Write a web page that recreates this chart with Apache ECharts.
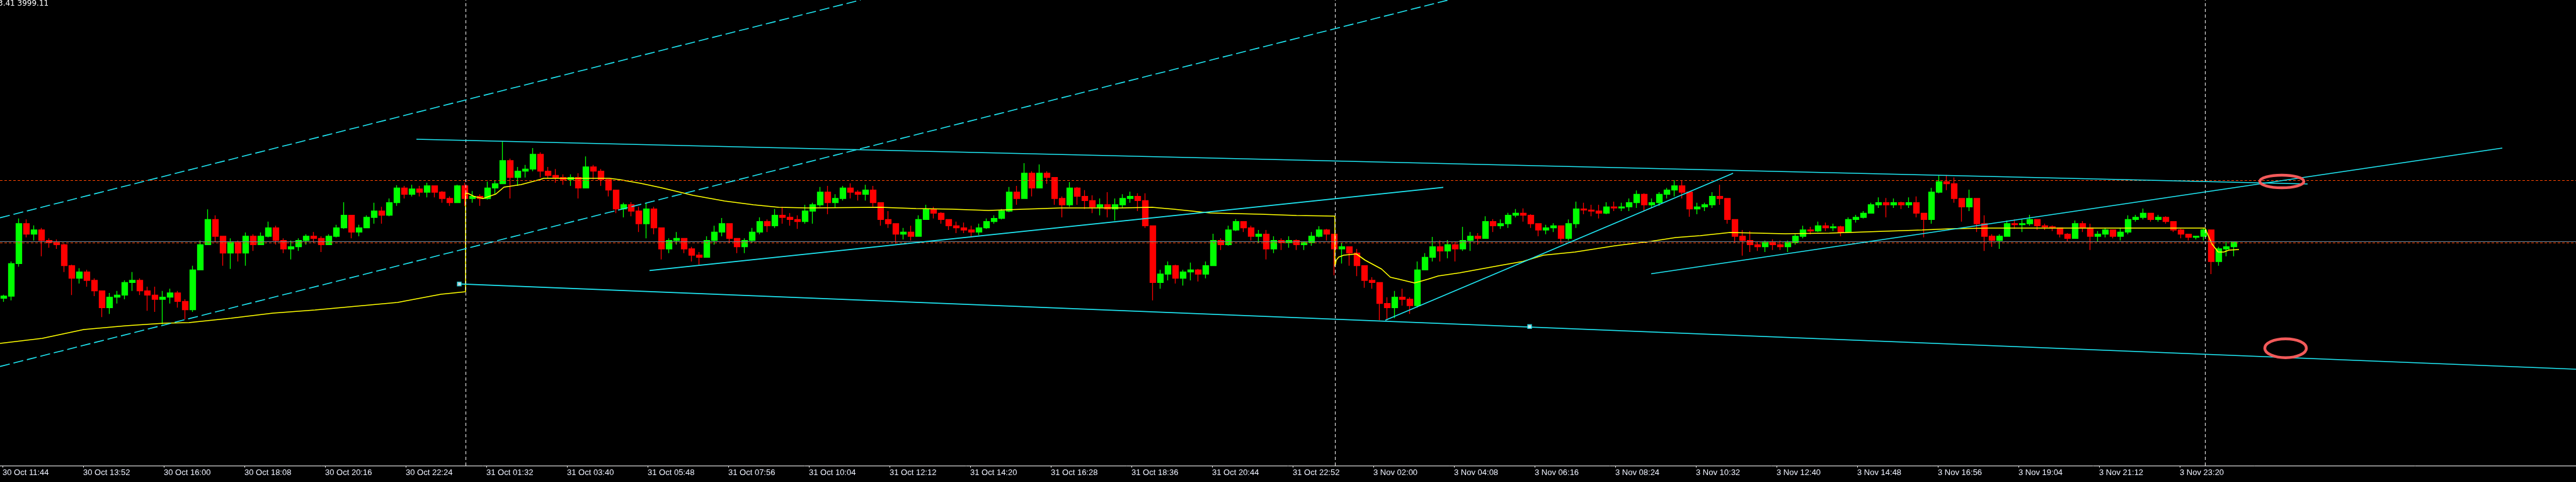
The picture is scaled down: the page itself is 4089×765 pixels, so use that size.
<!DOCTYPE html>
<html><head><meta charset="utf-8">
<script src="https://cdn.jsdelivr.net/npm/echarts@6/dist/echarts.min.js"></script>
<style>html,body{margin:0;padding:0;background:#000;overflow:hidden}#c{width:4089px;height:765px}</style>
</head><body><div id="c"></div>
<script>
// ---- time labels of the bottom axis (one every 128 one-minute bars) ----
const timeLabels = ['30 Oct 11:44','30 Oct 13:52','30 Oct 16:00','30 Oct 18:08','30 Oct 20:16','30 Oct 22:24',
 '31 Oct 01:32','31 Oct 03:40','31 Oct 05:48','31 Oct 07:56','31 Oct 10:04','31 Oct 12:12','31 Oct 14:20',
 '31 Oct 16:28','31 Oct 18:36','31 Oct 20:44','31 Oct 22:52','3 Nov 02:00','3 Nov 04:08','3 Nov 06:16',
 '3 Nov 08:24','3 Nov 10:32','3 Nov 12:40','3 Nov 14:48','3 Nov 16:56','3 Nov 19:04','3 Nov 21:12','3 Nov 23:20'];
const firstLabelBar = 4, barsPerLabel = 128;
const barMinutes = 12; // each candle below groups 12 one-minute bars

// ---- candles [open, close, low, high] ----
const session30Oct = [
[3972.2,3973.2,3970.5,3973.9],[3973.2,3988.7,3971.2,3989.7],[3988.7,4007.7,3987.2,4010.2],[4007.7,4002.7,4001.2,4009.7],
[4002.7,4004.7,3999.7,4006.9],[4004.7,3999.7,3992.2,4005.7],[3999.7,3998.7,3996.2,4000.7],[3998.7,3997.7,3995.7,4000.2],
[3997.7,3987.7,3984.7,3998.2],[3987.7,3981.7,3973.7,3988.2],[3981.7,3984.7,3979.2,3986.5],[3984.7,3980.7,3977.7,3985.7],
[3980.7,3975.7,3973.2,3981.7],[3975.7,3967.7,3963.2,3975.7],[3967.7,3972.7,3964.7,3974.7],[3972.7,3973.7,3969.7,3975.7],
[3973.7,3979.7,3971.7,3980.7],[3979.7,3980.7,3975.7,3984.7],[3980.7,3975.7,3973.7,3981.7],[3975.7,3973.7,3966.2,3977.7],
[3973.7,3971.7,3965.7,3977.7],[3971.7,3972.7,3959.7,3975.7],[3972.7,3974.7,3969.7,3976.7],[3974.7,3970.7,3967.7,3975.7],
[3970.7,3966.7,3962.2,3971.7],[3966.7,3985.7,3965.7,3987.7],[3985.7,3997.7,3985.7,3999.7],[3997.7,4009.7,3997.7,4014.5],
[4009.7,4001.7,3998.7,4011.7],[4001.7,3993.7,3987.7,4001.7],[3993.7,3998.7,3986.2,4000.7],[3998.7,3993.7,3989.7,3999.7],
[3993.7,4001.7,3987.7,4003.5],[4001.7,3997.7,3994.7,4002.7],[3997.7,4001.7,3997.7,4003.5],[4001.7,4005.7,4001.2,4008.7],
[4005.7,3999.7,3997.7,4006.7],[3999.7,3995.7,3993.7,4000.7],[3995.7,3996.7,3990.7,3999.7],[3996.7,3999.7,3994.7,4000.7],
[3999.7,4001.7,3997.7,4002.7],[4001.7,4000.7,3998.7,4003.7],[4000.7,3997.7,3994.2,4001.7],[3997.7,4001.7,3997.7,4002.7],
[4001.7,4005.7,4001.2,4007.2],[4005.7,4011.7,4005.2,4017.9],[4011.7,4003.7,4000.7,4011.7],[4003.7,4005.7,4001.7,4007.2],
[4005.7,4010.7,4005.7,4011.7],[4010.7,4013.7,4007.7,4017.7],[4013.7,4011.7,4007.7,4015.7],[4011.7,4017.7,4011.2,4019.7],
[4017.7,4024.7,4016.2,4026.0],[4024.7,4021.7,4019.7,4025.7],[4021.7,4024.2,4020.7,4026.2],[4024.2,4022.7,4020.7,4025.7],
[4022.7,4025.7,4020.2,4027.2],[4025.7,4022.7,4020.2,4025.7],[4022.7,4019.7,4017.7,4023.2],[4019.7,4017.7,4016.2,4020.7],
[4017.7,4025.7,4017.7,4026.2],[4025.7,4019.7,4016.2,4027.2]];
const session31Oct = [
[4019.7,4020.7,4017.7,4023.2],[4020.7,4019.7,4016.2,4021.7],[4019.7,4024.7,4019.2,4027.7],[4024.7,4026.7,4021.7,4028.2],
[4026.7,4037.7,4026.7,4046.7],[4037.7,4029.7,4019.7,4038.7],[4029.7,4032.7,4025.7,4034.7],[4032.7,4033.7,4029.7,4035.7],
[4033.7,4040.7,4032.7,4043.7],[4040.7,4032.7,4029.7,4041.7],[4032.7,4030.7,4029.2,4034.7],[4030.7,4029.7,4027.2,4033.7],
[4029.7,4028.7,4026.2,4031.2],[4028.7,4029.7,4025.7,4031.2],[4029.7,4024.7,4019.7,4031.7],[4024.7,4034.7,4024.7,4039.7],
[4034.7,4032.7,4028.7,4035.7],[4032.7,4028.7,4025.7,4033.7],[4028.7,4023.7,4020.7,4028.7],[4023.7,4014.7,4012.7,4023.7],
[4014.7,4016.7,4010.7,4017.7],[4016.7,4013.7,4011.2,4017.9],[4013.7,4007.7,4003.7,4015.7],[4007.7,4014.7,4000.7,4017.7],
[4014.7,4005.7,4002.7,4015.7],[4005.7,3995.7,3990.7,4005.7],[3995.7,3999.7,3993.7,4000.7],[3999.7,4000.7,3997.7,4003.7],
[4000.7,3995.7,3993.7,4000.7],[3995.7,3992.7,3989.7,3996.7],[3992.7,3991.7,3988.2,3994.2],[3991.7,3999.7,3991.7,4001.7],
[3999.7,4003.7,3997.7,4006.7],[4003.7,4007.7,4001.7,4010.4],[4007.7,4000.7,3998.7,4007.7],[4000.7,3996.7,3993.7,4000.7],
[3996.7,3999.7,3993.7,4000.7],[3999.7,4003.7,3998.7,4005.7],[4003.7,4008.7,4002.7,4010.7],[4008.7,4006.7,4003.7,4009.7],
[4006.7,4011.7,4005.7,4014.7],[4011.7,4010.7,4007.7,4015.7],[4010.7,4009.7,4006.7,4012.7],[4009.7,4008.7,4005.2,4011.7],
[4008.7,4013.7,4007.7,4016.7],[4013.7,4016.7,4007.7,4017.7],[4016.7,4022.7,4015.7,4025.2],[4022.7,4017.7,4012.2,4025.7],
[4017.7,4019.7,4015.2,4021.7],[4019.7,4024.7,4018.7,4025.7],[4024.7,4022.7,4019.7,4026.9],[4022.7,4021.7,4018.7,4023.7],
[4021.7,4023.7,4018.7,4026.2],[4023.7,4017.7,4015.7,4025.7],[4017.7,4009.7,4006.7,4017.7],[4009.7,4007.7,4005.7,4013.7],
[4007.7,4002.7,3998.2,4007.7],[4002.7,4003.7,4000.2,4005.7],[4003.7,4001.7,3999.7,4006.7],[4001.7,4009.7,4001.7,4011.7],
[4009.7,4014.7,4009.7,4016.7],[4014.7,4012.7,4010.2,4015.7],[4012.7,4009.7,4007.7,4013.2],[4009.7,4006.7,4004.7,4009.7],
[4006.7,4005.7,4003.2,4008.7],[4005.7,4004.7,4003.2,4008.2],[4004.7,4003.7,4001.7,4006.7],[4003.7,4005.7,4002.2,4007.7],
[4005.7,4008.7,4005.2,4010.2],[4008.7,4010.2,4007.7,4011.7],[4010.2,4013.7,4009.7,4014.7],[4013.7,4022.7,4013.2,4025.2],
[4022.7,4019.7,4016.7,4025.7],[4019.7,4031.7,4019.7,4036.5],[4031.7,4024.7,4020.7,4032.7],[4024.7,4031.7,4024.7,4035.9],
[4031.7,4029.7,4026.7,4032.7],[4029.7,4019.7,4016.7,4029.7],[4019.7,4016.7,4010.7,4020.7],[4016.7,4024.7,4015.7,4027.5],
[4024.7,4020.7,4016.7,4025.2],[4020.7,4018.7,4014.7,4023.7],[4018.7,4015.7,4012.7,4021.2],[4015.7,4016.7,4011.7,4019.7],
[4016.7,4014.7,4010.7,4022.7],[4014.7,4016.7,4009.2,4019.7],[4016.7,4019.7,4015.2,4021.7],[4019.7,4020.7,4017.7,4022.9],
[4020.7,4018.7,4013.7,4022.2],[4018.7,4006.7,4005.7,4022.2],[4006.7,3979.7,3971.2,4006.7],[3979.7,3983.7,3976.7,3985.7],
[3983.7,3987.7,3980.7,3989.7],[3987.7,3981.7,3979.2,3988.2],[3981.7,3984.7,3978.2,3985.7],[3984.7,3985.7,3980.7,3989.2],
[3985.7,3983.7,3980.2,3986.2],[3983.7,3987.7,3981.7,3989.7],[3987.7,3999.7,3987.7,4002.9],[3999.7,3997.7,3995.2,4000.7],
[3997.7,4004.7,3997.2,4006.7],[4004.7,4008.7,4004.2,4009.9],[4008.7,4005.7,4003.7,4008.9],[4005.7,4001.7,3999.7,4006.7],
[4001.7,4002.7,3998.7,4004.7],[4002.7,3995.7,3990.7,4004.7],[3995.7,3999.7,3993.7,4001.7],[3999.7,3998.7,3995.2,4000.7],
[3998.7,3999.7,3996.2,4001.7],[3999.7,3997.7,3995.2,4000.2],[3997.7,3998.7,3995.2,3999.2],[3998.7,4001.7,3997.2,4003.7],
[4001.7,4004.7,4001.2,4006.5],[4004.7,4002.7,3999.7,4005.2],[4002.7,3995.7,3983.2,4002.7]];
const session3Nov = [
[3995.7,3996.7,3988.7,3998.7],[3996.7,3993.7,3987.7,3996.7],[3993.7,3987.7,3982.7,3995.7],[3987.7,3980.7,3977.2,3987.7],
[3980.7,3979.7,3976.7,3982.2],[3979.7,3969.7,3961.7,3979.7],[3969.7,3967.7,3961.7,3972.7],[3967.7,3972.7,3962.7,3975.7],
[3972.7,3971.7,3968.7,3976.7],[3971.7,3968.7,3964.7,3972.7],[3968.7,3985.7,3967.7,3989.7],[3985.7,3991.7,3985.7,3993.7],
[3991.7,3996.7,3989.7,4001.4],[3996.7,3994.7,3989.7,3999.7],[3994.7,3997.7,3991.2,3999.9],[3997.7,3995.7,3989.7,3999.2],
[3995.7,3999.7,3994.7,4006.2],[3999.7,4001.7,3994.7,4003.7],[4001.7,4000.7,3997.7,4003.2],[4000.7,4008.7,4000.7,4011.2],
[4008.7,4006.7,4003.7,4009.9],[4006.7,4007.7,4005.2,4009.7],[4007.7,4011.7,4005.7,4012.9],[4011.7,4012.7,4010.7,4014.7],
[4012.7,4011.7,4008.7,4015.0],[4011.7,4007.7,4005.7,4012.2],[4007.7,4004.7,4001.7,4007.7],[4004.7,4005.7,4002.7,4007.2],
[4005.7,4006.7,4003.7,4007.9],[4006.7,4000.7,3998.2,4006.7],[4000.7,4007.7,3999.7,4009.7],[4007.7,4014.7,4005.7,4018.2],
[4014.7,4014.2,4012.2,4017.7],[4014.2,4013.7,4011.2,4016.7],[4013.7,4012.7,4010.2,4016.7],[4012.7,4015.7,4012.2,4017.9],
[4015.7,4015.2,4013.7,4018.2],[4015.2,4015.7,4013.7,4017.7],[4015.7,4017.7,4013.7,4019.7],[4017.7,4021.7,4015.2,4023.5],
[4021.7,4016.7,4013.7,4022.2],[4016.7,4017.7,4015.2,4019.7],[4017.7,4021.7,4016.2,4022.7],[4021.7,4023.7,4019.7,4024.7],
[4023.7,4025.7,4020.7,4028.4],[4025.7,4022.7,4019.7,4028.4],[4022.7,4014.7,4011.0,4022.7],[4014.7,4015.7,4012.2,4017.7],
[4015.7,4016.7,4013.7,4017.7],[4016.7,4020.7,4015.2,4022.7],[4020.7,4019.7,4016.7,4026.2],[4019.7,4009.7,4007.7,4019.7],
[4009.7,4001.7,3998.7,4009.7],[4001.7,3999.7,3992.5,4004.7],[3999.7,3997.7,3994.2,4004.2],[3997.7,3996.7,3994.7,3999.2],
[3996.7,3998.7,3994.2,3999.7],[3998.7,3997.7,3995.2,4000.2],[3997.7,3996.7,3995.2,3999.7],[3996.7,3998.7,3994.2,3999.7],
[3998.7,4001.7,3997.7,4002.7],[4001.7,4004.7,4000.7,4006.7],[4004.7,4004.2,4002.7,4006.2],[4004.2,4006.7,4003.7,4008.7],
[4006.7,4005.7,4004.2,4008.2],[4005.7,4006.2,4004.2,4007.7],[4006.2,4003.7,4001.7,4006.7],[4003.7,4009.7,4003.7,4010.7],
[4009.7,4010.7,4008.2,4011.9],[4010.7,4012.7,4010.2,4013.7],[4012.7,4016.7,4012.7,4017.7],[4016.7,4017.7,4015.2,4020.2],
[4017.7,4016.7,4010.7,4019.9],[4016.7,4017.7,4015.2,4019.7],[4017.7,4016.7,4014.7,4018.2],[4016.7,4017.7,4015.2,4020.2],
[4017.7,4012.7,4010.7,4020.7],[4012.7,4009.7,4001.2,4012.7],[4009.7,4022.7,4007.7,4024.7],[4022.7,4027.7,4022.2,4030.7],
[4027.7,4026.7,4023.7,4030.9],[4026.7,4019.7,4017.7,4029.7],[4019.7,4015.7,4008.7,4019.7],[4015.7,4019.7,4013.7,4023.9],
[4019.7,4007.7,4003.7,4019.7],[4007.7,4001.7,3994.7,4011.7],[4001.7,3999.7,3996.7,4002.7],[3999.7,4001.7,3995.7,4002.7],
[4001.7,4007.7,4001.7,4009.2],[4007.7,4007.2,4005.2,4009.7],[4007.2,4007.7,4003.7,4009.7],[4007.7,4009.7,4006.7,4011.9],
[4009.7,4006.7,4004.7,4009.7],[4006.7,4006.2,4004.7,4007.7],[4006.2,4005.7,4004.2,4006.9],[4005.7,4002.7,4001.2,4005.7],
[4002.7,4000.7,3999.2,4003.2],[4000.7,4007.7,4000.7,4009.2],[4007.7,4005.7,4003.7,4008.9],[4005.7,4001.7,3995.2,4007.7],
[4001.7,4002.7,3999.2,4004.2],[4002.7,4004.7,4001.2,4005.7],[4004.7,4001.7,4000.7,4004.7],[4001.7,4003.7,3999.7,4005.7],
[4003.7,4009.7,4002.7,4011.7],[4009.7,4010.7,4008.7,4011.9],[4010.7,4012.7,4009.7,4014.9],[4012.7,4009.7,4008.7,4012.9],
[4009.7,4010.7,4008.7,4011.9],[4010.7,4008.7,4007.7,4011.2],[4008.7,4004.7,4003.7,4008.7],[4004.7,4002.7,4000.7,4005.2],
[4002.7,4001.2,3999.7,4002.7],[4001.2,4001.7,4000.2,4001.9],[4001.7,4004.7,3999.7,4005.7],[4004.7,3989.7,3983.7,4004.7],
[3989.7,3995.7,3987.7,3996.7],[3995.7,3996.7,3992.2,3999.2],[3996.7,3999.11,3992.2,3999.2]];

// ---- yellow session average [bar, price] ----
const avg30Oct = [[0,3950.7],[67,3953.1],[133,3957.3],[200,3959.1],[260,3960.3],[300,3960.6],[367,3962.7],[433,3965.1],
[500,3966.6],[631,3970.2],[700,3974.1],[739,3975.3]];
const avg31Oct = [[739,4022.2],[743,4022.1],[753,4020.6],[767,4019.7],[787,4021.8],[800,4025.1],[827,4026.3],[857,4028.7],
[863,4029.3],[967,4029.3],[983,4028.7],[1017,4026.9],[1050,4024.8],[1100,4021.2],[1150,4018.5],[1196,4016.7],[1236,4015.5],
[1282,4015.2],[1397,4015.5],[1454,4014.9],[1511,4014.6],[1569,4014.0],[1626,4014.6],[1684,4015.2],[1780,4015.2],[1829,4015.5],
[1863,4014.6],[1921,4012.8],[2001,4012.2],[2058,4011.6],[2119,4011.3]];
const avg3Nov = [[2119,3987.3],[2121,3990.3],[2125,3991.8],[2133,3992.7],[2153,3993.3],[2160,3991.8],[2167,3990.3],[2180,3988.2],
[2193,3986.1],[2207,3982.2],[2220,3981.3],[2245,3979.5],[2253,3980.1],[2267,3981.3],[2283,3982.8],[2317,3984.3],[2350,3986.1],
[2383,3987.9],[2417,3989.7],[2450,3992.7],[2500,3994.2],[2564,3997.2],[2621,3999.3],[2660,4001.1],[2699,4002.0],[2746,4003.5],
[2834,4002.9],[2904,4003.2],[2992,4004.1],[3051,4004.7],[3098,4005.3],[3156,4005.6],[3500,4005.6],[3511,3998.1],[3521,3994.2],
[3530,3994.2],[3538,3995.1],[3554,3995.4]];

// ---- drawn objects ----
const solidTrendLines = [
  [[661,4047.9],[3663,4026.6]],
  [[729,3979.0],[4089,3938.4]],
  [[1031,3985.4],[2291,4025.0]],
  [[2199,3961.7],[2751,4031.7]],
  [[2621,3983.85],[3972,4043.7]]];
const dashedTrendLines = [
  [[0,4010.5],[1366,4114.2]],
  [[0,3939.7],[2299,4114.2]]];
const anchorPoints = [[729,3979.0],[2428,3958.7]];
const sessionBreaks = [739, 2119, 3500];
const bidPrice = 3999.11;
const levelPrices = [3998.7, 4028.3];
const circledSpots = [[3622,4027.8,35,10],[3628,3948.4,33,15]];
const headerText = '3.41 3999.11';

// ---- build ----
const allCandles = session30Oct.concat(session31Oct, session3Nov);
const candleData = allCandles.map((r, i) => [i * barMinutes + barMinutes / 2, r[0], r[1], r[2], r[3]]);
const tickBars = timeLabels.map((_, i) => firstLabelBar + barsPerLabel * i);
const labelAt = {};
tickBars.forEach((b, i) => { labelAt[b] = timeLabels[i]; });
const CYAN = '#1fe6f2';

const series = [];
series.push({
  type: 'candlestick', data: candleData, encode: {x: 0, y: [1, 2, 3, 4]},
  barWidth: 10, z: 2,
  itemStyle: {color: '#00ff00', color0: '#ff0000', borderColor: '#00ff00', borderColor0: '#ff0000', borderWidth: 1.3}
});
series.push({
  type: 'line', data: avg30Oct.concat(avg31Oct, avg3Nov), showSymbol: false, z: 4,
  lineStyle: {color: '#ffff00', width: 1.6},
  markLine: {
    silent: true, symbol: ['none', 'none'], label: {show: false}, animation: false,
    data: [
      {yAxis: bidPrice, lineStyle: {color: '#778899', width: 1.2, type: 'solid'}},
      ...levelPrices.map(p => ({yAxis: p, lineStyle: {color: '#ff4500', width: 1.2, type: [4, 3]}})),
      ...sessionBreaks.map(x => ({xAxis: x, lineStyle: {color: '#ffffff', width: 1, type: [5, 4]}}))
    ]
  }
});
solidTrendLines.forEach(l => series.push({type: 'line', data: l, showSymbol: false, z: 5,
  lineStyle: {color: CYAN, width: 1.6}}));
dashedTrendLines.forEach(l => series.push({type: 'line', data: l, showSymbol: false, z: 5,
  lineStyle: {color: CYAN, width: 1.6, type: [16, 6]}}));
series.push({type: 'scatter', data: anchorPoints, symbol: 'rect', symbolSize: 6, z: 6,
  itemStyle: {color: '#ffffff', borderColor: CYAN, borderWidth: 1.5}});
series.push({
  type: 'custom', z: 8, data: circledSpots, clip: false,
  renderItem: (params, api) => {
    const c = api.coord([api.value(0), api.value(1)]);
    return {type: 'ellipse', shape: {cx: c[0], cy: c[1], rx: api.value(2), ry: api.value(3)},
      style: {fill: 'none', stroke: '#f25a5a', lineWidth: 4.5}};
  }
});

const chart = echarts.init(document.getElementById('c'), null, {renderer: 'canvas'});
chart.setOption({
  animation: false,
  backgroundColor: '#000000',
  grid: {left: 0, right: 0, top: 0, bottom: 26, containLabel: false},
  xAxis: {
    type: 'value', min: 0, max: 4089,
    axisLine: {show: true, onZero: false, lineStyle: {color: '#ffffff', width: 1}},
    axisTick: {show: true, customValues: tickBars, length: 3, lineStyle: {color: '#ffffff'}},
    axisLabel: {show: true, customValues: tickBars, formatter: v => labelAt[v] || '', color: '#eef2ff',
      fontFamily: 'Liberation Sans', fontSize: 13, align: 'left', margin: 5},
    splitLine: {show: false}
  },
  yAxis: {type: 'value', min: 3892.5, max: 4114.2, show: false, splitLine: {show: false}},
  graphic: [{type: 'text', x: -3, y: 0, silent: true,
    style: {text: headerText, fill: '#ffffff', font: '12px "DejaVu Sans"', textVerticalAlign: 'top'}}],
  series: series
});
</script></body></html>
